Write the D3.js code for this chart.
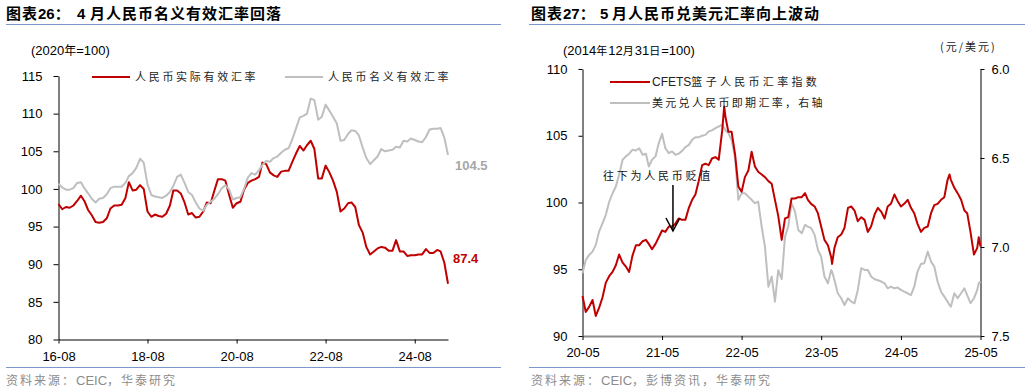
<!DOCTYPE html>
<html>
<head>
<meta charset="utf-8">
<script src="https://cdn.jsdelivr.net/npm/d3@7"></script>
<style>
  body { margin: 0; background: #fff; }
</style>
</head>
<body>
<div id="chart"></div>
<script>
// left panel: monthly effective exchange rates, 2020=100, from 2016-08
var reerStartMonth = "2016-08";
var reerReal = [98, 97.3, 97.6, 97.5, 97.8, 98.4, 99.1, 98.4, 97.2, 96.5,
  95.6, 95.5, 95.6, 96.1, 97.4, 97.8, 97.8, 97.9, 98.8, 100.9,
  99.8, 99.9, 100.5, 100, 97, 96.3, 96.6, 96.4, 96.3, 96.7,
  97.8, 99.8, 99.8, 99.4, 98.2, 96.6, 96.8, 96.2, 96.3, 97,
  98.2, 98.1, 99.8, 101.3, 101.3, 101.1, 99.2, 97.5, 98.1, 98.3,
  99.9, 100.8, 101.1, 101.3, 101.6, 103.5, 103.3, 102.2, 101.8, 101.6,
  102.3, 102.4, 102.4, 103.6, 104.7, 105.7, 105.1, 105.8, 106.4, 105.3,
  101.4, 101.4, 103.1, 102.2, 101.1, 99.6, 97, 97.4, 98.1, 98.2,
  97.6, 95.2, 94.2, 92.3, 91.3, 91.7, 92.1, 92.3, 92.2, 91.8,
  91.8, 93.2, 91.7, 91.7, 91.1, 91.2, 91.2, 91.3, 91.3, 92,
  91.5, 91.5, 91.9, 91.7, 90.2, 87.4];
var neerNominal = [100.7, 100.2, 99.9, 99.9, 100.1, 100.8, 100.9, 100.1, 99.4, 98.7,
  98.2, 98.7, 98.8, 99.3, 100.1, 100.3, 100.3, 100.3, 100.8, 101.7,
  102.1, 102.8, 104, 103.5, 100.6, 99.2, 99, 98.9, 98.8, 99.1,
  99.6, 100.4, 101.6, 101.9, 100.8, 99.6, 99.2, 98.2, 97.4, 97.1,
  97.9, 98.3, 98.7, 99.3, 100.1, 100.5, 99.9, 98.6, 98.8, 98.9,
  100, 101.5, 102.1, 101.9, 102.5, 103.2, 103.7, 103.6, 104.1, 104.3,
  104.8, 105.2, 105.4, 106.6, 108, 109.5, 109.7, 110, 112, 111.8,
  109.2, 109.6, 111.2, 110.4, 109.6, 108.7, 106.4, 106.5, 107.3, 107.8,
  107.7, 107.1, 105.5, 104.1, 103.3, 103.8, 104.3, 105.3, 105, 105.1,
  105.2, 105.6, 105.5, 106.4, 106.3, 106.7, 106.5, 106.3, 106.2, 106.9,
  107.9, 108, 108, 108.1, 106.8, 104.5];
var leftYTicks = [80, 85, 90, 95, 100, 105, 110, 115];
var leftXTicks = ["2016-08", "2018-08", "2020-08", "2022-08", "2024-08"];

// right panel: CFETS basket index (left axis) and USD/CNY spot (right axis)
var cfetsDates = [
  "2020-05-01","2020-05-16","2020-06-01","2020-06-16","2020-07-01","2020-07-16","2020-08-01","2020-08-16","2020-09-01","2020-09-16",
  "2020-10-01","2020-10-16","2020-11-01","2020-11-16","2020-12-01","2020-12-16","2021-01-01","2021-01-16","2021-02-01","2021-02-16",
  "2021-03-01","2021-03-16","2021-04-01","2021-04-16","2021-05-01","2021-05-16","2021-06-01","2021-06-16","2021-07-01","2021-07-16",
  "2021-08-01","2021-08-16","2021-09-01","2021-09-16","2021-10-01","2021-10-16","2021-11-01","2021-11-16","2021-12-01","2021-12-16",
  "2022-01-01","2022-01-16","2022-02-01","2022-02-10","2022-02-16","2022-03-01","2022-03-16","2022-04-01","2022-04-16","2022-05-01",
  "2022-05-16","2022-06-01","2022-06-16","2022-07-01","2022-07-16","2022-08-01","2022-08-16","2022-09-01","2022-09-16","2022-10-01",
  "2022-10-16","2022-11-01","2022-11-16","2022-12-01","2022-12-16","2023-01-01","2023-01-16","2023-02-01","2023-02-16","2023-03-01",
  "2023-03-16","2023-04-01","2023-04-16","2023-05-01","2023-05-16","2023-06-01","2023-06-16","2023-06-20","2023-07-01","2023-07-16",
  "2023-08-01","2023-08-16","2023-09-01","2023-09-16","2023-10-01","2023-10-16","2023-11-01","2023-11-16","2023-12-01","2023-12-16",
  "2024-01-01","2024-01-16","2024-02-01","2024-02-16","2024-03-01","2024-03-16","2024-04-01","2024-04-16","2024-05-01","2024-05-16",
  "2024-06-01","2024-06-16","2024-07-01","2024-07-16","2024-08-01","2024-08-16","2024-09-01","2024-09-16","2024-10-01","2024-10-16",
  "2024-11-01","2024-11-16","2024-12-01","2024-12-10","2024-12-16","2025-01-01","2025-01-16","2025-02-01","2025-02-16","2025-03-01",
  "2025-03-16","2025-04-01","2025-04-16","2025-04-23","2025-05-01"];
var cfetsIndex = [93.0, 91.8, 92.2, 92.7, 91.5, 92.1, 92.9, 94.0, 94.5, 94.8,
  95.3, 96.1, 95.5, 95.2, 94.8, 96.0, 96.8, 96.8, 97.1, 97.2,
  96.9, 96.5, 96.9, 97.4, 97.9, 97.8, 98.2, 98.2, 98.4, 98.8,
  98.7, 98.7, 99.6, 100.2, 100.6, 101.6, 102.8, 102.9, 102.8, 103.3,
  103.4, 103.2, 105.4, 107.2, 106.4, 105.3, 105.3, 103.6, 101.2, 100.8,
  101.9, 102.4, 103.8, 102.7, 102.3, 102.1, 101.9, 101.6, 101.4, 100.2,
  99.0, 97.2, 98.8, 98.9, 100.3, 100.3, 100.4, 100.4, 100.7, 100.2,
  99.9, 99.7, 99.2, 98.2, 97.2, 96.8, 95.9, 95.4, 96.6, 97.4,
  97.6, 98.1, 99.6, 99.7, 99.4, 98.6, 98.9, 98.7, 97.8, 98.2,
  99.1, 99.6, 99.3, 98.8, 99.7, 99.9, 100.6, 100.1, 99.7, 99.9,
  100.2, 99.6, 99.2, 98.4, 97.8, 98.1, 98.2, 99.2, 99.8, 99.9,
  100.2, 100.4, 101.7, 102.1, 101.7, 101.1, 100.7, 100.2, 99.4, 99.2,
  97.8, 96.1, 96.6, 97.4, 96.7];
var usdCny = [7.148, 7.073, 7.044, 7.026, 6.988, 6.913, 6.866, 6.819, 6.745, 6.698,
  6.660, 6.594, 6.510, 6.491, 6.476, 6.454, 6.458, 6.445, 6.482, 6.476,
  6.548, 6.510, 6.491, 6.416, 6.364, 6.445, 6.473, 6.463, 6.482, 6.476,
  6.460, 6.439, 6.426, 6.398, 6.383, 6.383, 6.375, 6.370, 6.351, 6.345,
  6.332, 6.323, 6.313, 6.332, 6.345, 6.360, 6.398, 6.501, 6.735, 6.698,
  6.698, 6.717, 6.735, 6.754, 6.745, 6.885, 6.998, 7.223, 7.166, 7.307,
  7.130, 7.180, 6.942, 6.885, 6.754, 6.801, 6.904, 6.923, 6.876, 6.885,
  6.894, 6.932, 7.016, 7.054, 7.166, 7.204, 7.129, 7.138, 7.185, 7.260,
  7.288, 7.326, 7.288, 7.307, 7.316, 7.241, 7.119, 7.129, 7.129, 7.166,
  7.181, 7.187, 7.194, 7.204, 7.232, 7.223, 7.232, 7.228, 7.241, 7.251,
  7.260, 7.270, 7.223, 7.138, 7.095, 7.091, 7.026, 7.082, 7.110, 7.194,
  7.251, 7.279, 7.307, 7.326, 7.335, 7.260, 7.288, 7.260, 7.232, 7.270,
  7.316, 7.288, 7.241, 7.204, 7.194];
var rightYTicks = [90, 95, 100, 105, 110];
var rightY2Ticks = [6.0, 6.5, 7.0, 7.5];
var rightXTicks = ["2020-05", "2021-05", "2022-05", "2023-05", "2024-05", "2025-05"];

var latinFont = "'Liberation Sans', Arial, sans-serif";
var cjkFont = "'Noto Sans CJK SC', 'Noto Sans CJK JP', sans-serif";
var red = "#c00000", grey = "#bfbfbf", rule = "#7b98cc";

var parseMonth = d3.timeParse("%Y-%m");
var parseDay = d3.timeParse("%Y-%m-%d");
var fmtTick = d3.timeFormat("%y-%m");

var svg = d3.select("#chart").append("svg")
  .attr("width", 1030)
  .attr("height", 392);

// text made of latin + CJK runs; parts = [[string, isCjk], ...]
function mixedText(x, y, parts, o) {
  var t = svg.append("text")
    .attr("x", x)
    .attr("y", y)
    .attr("fill", o.fill || "#000")
    .attr("font-weight", o.weight || "normal");
  parts.forEach(function(p) {
    var s = t.append("tspan").text(p[0]);
    if (p[1]) {
      s.attr("font-family", cjkFont)
        .attr("font-size", o.cjkSize)
        .attr("letter-spacing", o.spacing || 0);
    } else {
      s.attr("font-family", latinFont)
        .attr("font-size", o.latinSize)
        .attr("letter-spacing", o.latinSpacing || 0);
    }
    if (p[2] != null) s.attr("x", p[2]);
  });
  return t;
}

function styleAxis(g) {
  g.selectAll("text")
    .attr("font-family", latinFont)
    .attr("font-size", 13)
    .attr("fill", "#000");
  g.selectAll("line").attr("stroke", "#000");
  g.select(".domain").attr("stroke", "#000");
}

// ---------- headers / footers ----------
var titleOpts = {latinSize: 15, cjkSize: 15, spacing: 1, weight: "bold"};
mixedText(6, 19, [["图表", true], ["26", false], ["：", true], ["4", false, 77], ["月人民币名义有效汇率回落", true, 90]], titleOpts);
mixedText(531, 19, [["图表", true], ["27", false], ["：", true], ["5", false, 600], ["月人民币兑美元汇率向上波动", true, 612]], titleOpts);

[[6, 501], [529, 1025]].forEach(function(r) {
  svg.append("line").attr("x1", r[0]).attr("x2", r[1]).attr("y1", 24.5).attr("y2", 24.5)
    .attr("stroke", rule).attr("stroke-width", 1);
  svg.append("line").attr("x1", r[0]).attr("x2", r[1]).attr("y1", 367.5).attr("y2", 367.5)
    .attr("stroke", rule).attr("stroke-width", 1);
});

var srcOpts = {latinSize: 13, cjkSize: 12, spacing: 2, fill: "#8c8c8c"};
mixedText(6, 385, [["资料来源：", true], ["CEIC", false], ["，华泰研究", true]], srcOpts);
mixedText(531, 385, [["资料来源：", true], ["CEIC", false], ["，彭博资讯，华泰研究", true]], srcOpts);

// ---------- left panel ----------
var reerMonths = reerReal.map(function(d, i) {
  return d3.timeMonth.offset(parseMonth(reerStartMonth), i);
});

var xL = d3.scaleTime()
  .domain([reerMonths[0], reerMonths[reerMonths.length - 1]])
  .range([58.5, 448]);
var yL = d3.scaleLinear().domain([80, 115]).range([339.5, 76]);

var leftG = svg.append("g");

leftG.append("g")
  .attr("transform", "translate(58.5,0)")
  .call(d3.axisLeft(yL).tickValues(leftYTicks).tickSize(5).tickSizeOuter(0).tickPadding(11))
  .call(styleAxis);

leftG.append("g")
  .attr("transform", "translate(0,339.5)")
  .call(d3.axisBottom(xL).tickValues(leftXTicks.map(parseMonth)).tickFormat(fmtTick)
    .tickSize(4).tickSizeOuter(0).tickPadding(8))
  .call(styleAxis);

var lineL = function(values) {
  return d3.line()
    .x(function(d, i) { return xL(reerMonths[i]); })
    .y(function(d) { return yL(d); })(values);
};

leftG.append("path").attr("d", lineL(reerReal))
  .attr("fill", "none").attr("stroke", red).attr("stroke-width", 2).attr("stroke-linejoin", "round");
leftG.append("path").attr("d", lineL(neerNominal))
  .attr("fill", "none").attr("stroke", grey).attr("stroke-width", 2).attr("stroke-linejoin", "round");

// end labels
var lastI = reerReal.length - 1;
leftG.append("text")
  .attr("x", xL(reerMonths[lastI]) + 7)
  .attr("y", yL(neerNominal[lastI]) + 15)
  .attr("font-family", latinFont).attr("font-size", 13).attr("font-weight", "bold")
  .attr("fill", "#a6a6a6")
  .text(d3.format(".1f")(neerNominal[lastI]));
leftG.append("text")
  .attr("x", xL(reerMonths[lastI]) + 5)
  .attr("y", yL(reerReal[lastI]) - 21)
  .attr("font-family", latinFont).attr("font-size", 13).attr("font-weight", "bold")
  .attr("fill", red)
  .text(d3.format(".1f")(reerReal[lastI]));

mixedText(31, 54.5, [["(2020", false], ["年", true], ["=100)", false]], {latinSize: 13, cjkSize: 12});

// legend
var legOpts = {cjkSize: 11, spacing: 2.7, fill: "#222"};
svg.append("line").attr("x1", 92).attr("x2", 130).attr("y1", 77).attr("y2", 77)
  .attr("stroke", red).attr("stroke-width", 2);
mixedText(135, 81, [["人民币实际有效汇率", true]], legOpts);
svg.append("line").attr("x1", 285).attr("x2", 323).attr("y1", 77).attr("y2", 77)
  .attr("stroke", grey).attr("stroke-width", 2);
mixedText(328, 81, [["人民币名义有效汇率", true]], legOpts);

// ---------- right panel ----------
var rDates = cfetsDates.map(parseDay);
var xR = d3.scaleTime()
  .domain([parseMonth("2020-05"), parseMonth("2025-05")])
  .range([582.5, 980.5]);
var yR = d3.scaleLinear().domain([90, 110]).range([336, 69]);
var yR2 = d3.scaleLinear().domain([6.0, 7.5]).range([69, 336]);

var rightG = svg.append("g");

rightG.append("g")
  .attr("transform", "translate(582.5,0)")
  .call(d3.axisLeft(yR).tickValues(rightYTicks).tickSize(4).tickSizeOuter(0).tickPadding(11))
  .call(styleAxis);

rightG.append("g")
  .attr("transform", "translate(980.5,0)")
  .call(d3.axisRight(yR2).tickValues(rightY2Ticks).tickFormat(d3.format(".1f"))
    .tickSize(4).tickSizeOuter(0).tickPadding(7))
  .call(styleAxis);

var xAxisR = rightG.append("g")
  .attr("transform", "translate(0,336)")
  .call(d3.axisBottom(xR).tickValues(rightXTicks.map(parseMonth)).tickFormat(fmtTick)
    .tickSize(4).tickSizeOuter(0).tickPadding(8))
  .call(styleAxis);
xAxisR.select(".domain").attr("stroke", "#8c8c8c").attr("stroke-width", 2);

rightG.append("path")
  .attr("d", d3.line()
    .x(function(d, i) { return xR(rDates[i]); })
    .y(function(d) { return yR2(d); })(usdCny))
  .attr("fill", "none").attr("stroke", grey).attr("stroke-width", 2).attr("stroke-linejoin", "round");

rightG.append("path")
  .attr("d", d3.line()
    .x(function(d, i) { return xR(rDates[i]); })
    .y(function(d) { return yR(d); })(cfetsIndex))
  .attr("fill", "none").attr("stroke", red).attr("stroke-width", 2).attr("stroke-linejoin", "round");

mixedText(563, 54.5, [["(2014", false], ["年", true], ["12", false], ["月", true], ["31", false], ["日", true], ["=100)", false]],
  {latinSize: 13, cjkSize: 11, spacing: 1});
mixedText(940, 51, [["(元/美元)", true]], {cjkSize: 11, spacing: 2, fill: "#222"});

// legend
svg.append("line").attr("x1", 610).attr("x2", 650).attr("y1", 82).attr("y2", 82)
  .attr("stroke", red).attr("stroke-width", 2);
mixedText(652, 86, [["CFETS", false], ["篮子人民币汇率指数", true]],
  {latinSize: 12, cjkSize: 11, spacing: 3.3, fill: "#222"});
svg.append("line").attr("x1", 610).attr("x2", 650).attr("y1", 103).attr("y2", 103)
  .attr("stroke", grey).attr("stroke-width", 2);
mixedText(652, 107, [["美元兑人民币即期汇率，右轴", true]], {cjkSize: 11, spacing: 2.3, fill: "#222"});

// depreciation note with arrow
var arrowX = xR(parseDay("2021-06-20"));
mixedText(603, 180, [["往下为人民币贬值", true]], {cjkSize: 11, spacing: 2.75, fill: "#111"});
rightG.append("line").attr("x1", arrowX).attr("x2", arrowX).attr("y1", 185).attr("y2", 231)
  .attr("stroke", "#000").attr("stroke-width", 1.5);
rightG.append("path")
  .attr("d", "M" + (arrowX - 7) + ",218L" + arrowX + ",231L" + (arrowX + 7) + ",218")
  .attr("fill", "none").attr("stroke", "#000").attr("stroke-width", 1.5);
</script>
</body>
</html>
